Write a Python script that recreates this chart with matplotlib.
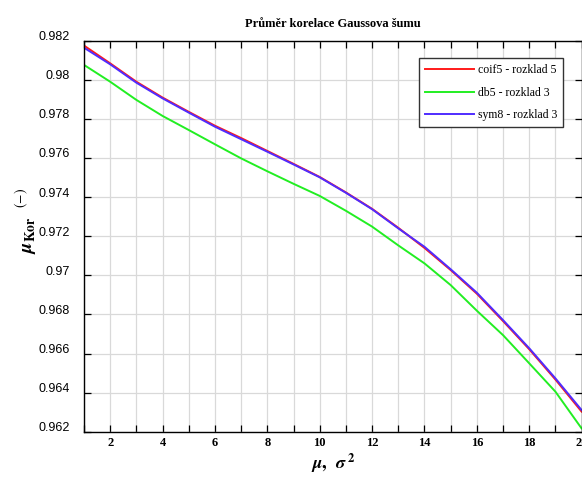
import numpy as np
import matplotlib
matplotlib.use('Agg')
import matplotlib.pyplot as plt
import matplotlib.transforms as mtransforms

# data
x = np.arange(1, 21)
coif5 = [0.98175, 0.98084, 0.97990, 0.97909, 0.97836, 0.97765, 0.97702, 0.97636,
         0.97570, 0.97503, 0.97424, 0.97340, 0.97243, 0.97140, 0.97027, 0.96906,
         0.96766, 0.96622, 0.96467, 0.96303]
db5 = [0.98076, 0.97990, 0.97897, 0.97815, 0.97743, 0.97670, 0.97598, 0.97532,
       0.97468, 0.97406, 0.97330, 0.97249, 0.97153, 0.97061, 0.96950, 0.96819,
       0.96694, 0.96550, 0.96405, 0.96217]
sym8 = [0.98164, 0.98079, 0.97985, 0.97905, 0.97832, 0.97760, 0.97696, 0.97632,
        0.97567, 0.97501, 0.97422, 0.97338, 0.97240, 0.97146, 0.97031, 0.96911,
        0.96771, 0.96627, 0.96473, 0.96311]
labels = ['coif5 - rozklad 5', 'db5 - rozklad 3', 'sym8 - rozklad 3']
yticks = np.round(np.arange(0.962, 0.98201, 0.002), 3)
ytick_labels = ['0.962', '0.964', '0.966', '0.968', '0.97', '0.972', '0.974',
                '0.976', '0.978', '0.98', '0.982']

plt.rcParams['mathtext.fontset'] = 'stix'
serif = 'Liberation Serif'

fig = plt.figure(figsize=(5.82, 4.84), dpi=100)
ax = fig.add_axes([0.1443, 0.108, 0.855, 0.808])

ax.plot(x, coif5, color='#ff1a1a', lw=1.4, label=labels[0])
ax.plot(x, db5, color='#22ee22', lw=1.4, label=labels[1])
ax.plot(x, sym8, color='#4f2cff', lw=1.4, label=labels[2])

ax.set_xlim(1, 20)
ax.set_ylim(0.962, 0.982)
ax.set_xticks(np.arange(1, 21), minor=True)
ax.set_xticks(np.arange(2, 21, 2))
ax.set_yticks(yticks)
ax.set_yticklabels(ytick_labels)
ax.grid(True, which='both', color='#d9d9d9', lw=0.9)
ax.set_axisbelow(True)
ax.tick_params(which='both', direction='in', top=True, right=True,
               length=5, width=0.9, color='black')
ax.tick_params(axis='y', labelsize=9, pad=10)
for t in ax.get_yticklabels():
    t.set_fontfamily('Liberation Sans')
    t.set_transform(t.get_transform() + mtransforms.ScaledTranslation(0, 5 / 100, fig.dpi_scale_trans))
for t in ax.get_xticklabels():
    t.set_fontfamily(serif)
    t.set_fontweight('bold')
    t.set_fontsize(9)
for s in ax.spines.values():
    s.set_linewidth(1.0)

ax.set_title('Průměr korelace Gaussova šumu', fontfamily=serif,
             fontweight='bold', fontsize=9, pad=10)
ax.set_xlabel(r'$\mathbfit{\mu}\mathbf{,}\ \ \mathbfit{\sigma}^{\ \mathbf{2}}$', fontsize=13, labelpad=2)
ax.set_ylabel(r'$\mathbfit{\mu}_{\mathbf{Kor}}\ \ ^{(-)}$', fontsize=14)
ax.yaxis.set_label_coords(-0.09, 0.54)

leg = ax.legend(loc='upper right', bbox_to_anchor=(0.975, 0.97), fancybox=False,
                edgecolor='#333333', framealpha=1, handlelength=4.2,
                prop={'family': serif, 'size': 8.5}, borderpad=0.5,
                labelspacing=0.9, handletextpad=0.3)
leg.get_frame().set_linewidth(1.0)

fig.savefig('out.png', dpi=100)
